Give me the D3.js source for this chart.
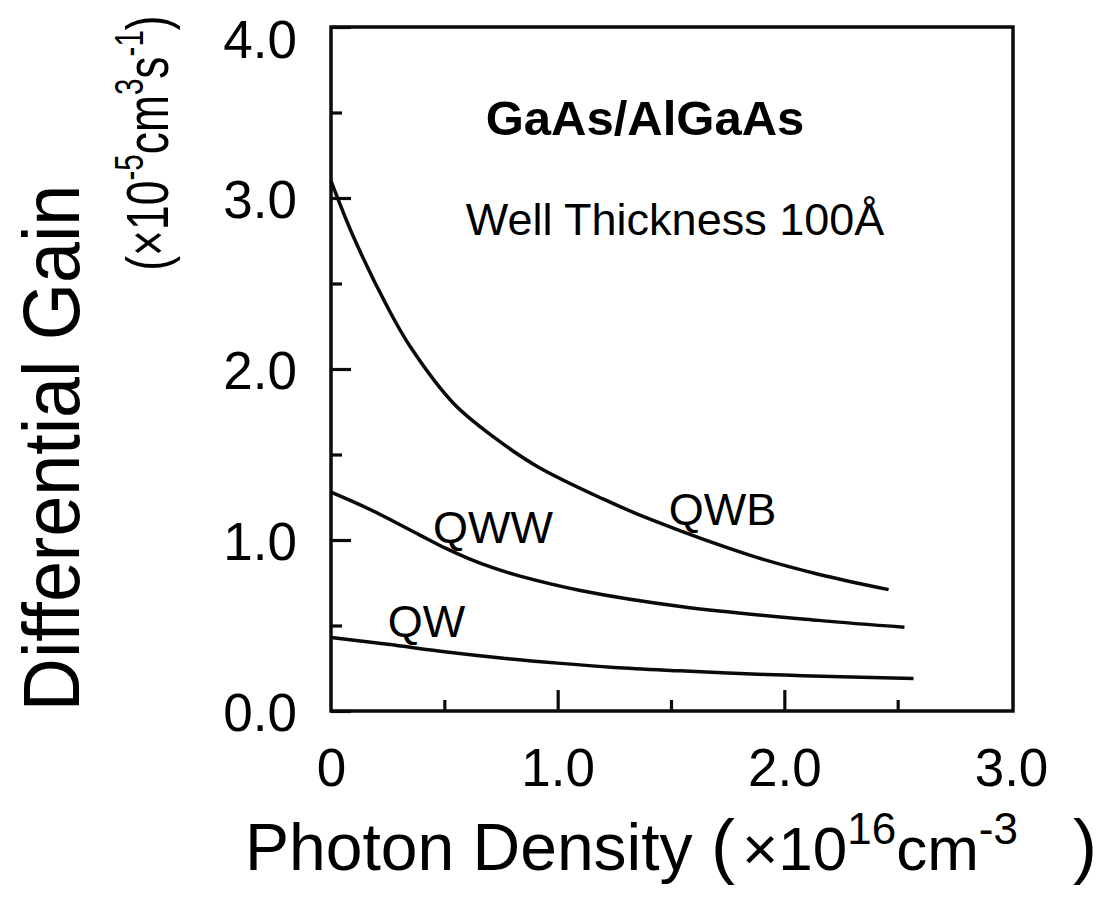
<!DOCTYPE html>
<html>
<head>
<meta charset="utf-8">
<script src="https://cdn.jsdelivr.net/npm/d3@7/dist/d3.min.js"></script>
<style>
  html, body { margin: 0; padding: 0; background: #fff; }
  svg { display: block; }
  text { font-family: "Liberation Sans", Arial, Helvetica, sans-serif; fill: #000; }
</style>
</head>
<body>
<svg id="chart" width="1113" height="907"></svg>
<script>
// Photon density (x1e16 cm^-3) and differential gain (x1e-5 cm^3 s^-1)
const qwbX = [0, 0.10, 0.25, 0.35, 0.54, 0.72, 0.91, 1.20, 1.41, 1.85, 2.15, 2.46];
const qwbY = [3.10, 2.77, 2.36, 2.13, 1.80, 1.60, 1.43, 1.24, 1.12, 0.91, 0.80, 0.71];

const qwwX = [0, 0.17, 0.39, 0.50, 0.61, 0.72, 0.83, 1.10, 1.55, 2.15, 2.53];
const qwwY = [1.28, 1.18, 1.03, 0.955, 0.89, 0.835, 0.79, 0.705, 0.61, 0.53, 0.49];

const qwX = [0, 0.25, 0.51, 0.75, 1.00, 1.25, 1.54, 1.75, 2.00, 2.25, 2.57];
const qwY = [0.43, 0.39, 0.345, 0.31, 0.28, 0.255, 0.235, 0.222, 0.21, 0.20, 0.19];

const seriesNames = ["QWB", "QWW", "QW"];

const xMajorTicks = [0, 1, 2, 3];
const xMinorTicks = [0.5, 1.5, 2.5];
const yMajorTicks = [0, 1, 2, 3, 4];
const yMinorTicks = [0.5, 1.5, 2.5, 3.5];

const series = [
  { name: seriesNames[0], xs: qwbX, ys: qwbY },
  { name: seriesNames[1], xs: qwwX, ys: qwwY },
  { name: seriesNames[2], xs: qwX, ys: qwY }
];

// curve label anchors, in data units (left end of text baseline)
const labelAt = {
  QWB: [1.49, 1.09],
  QWW: [0.45, 0.98],
  QW:  [0.25, 0.435]
};

const svg = d3.select("#chart");
const plotL = 331, plotR = 1011, plotT = 27, plotB = 711;

const x = d3.scaleLinear().domain([0, 3]).range([plotL, plotR]);
const y = d3.scaleLinear().domain([0, 4]).range([plotB, plotT]);

const ink = "#0a0a0a";

// frame
svg.append("rect")
  .attr("x", plotL).attr("y", plotT)
  .attr("width", plotR + 2 - plotL).attr("height", plotB - plotT)
  .attr("fill", "none").attr("stroke", ink).attr("stroke-width", 3.5);

// y axis: inward ticks, labels outside
const yAxisMajor = d3.axisLeft(y).tickValues(yMajorTicks)
  .tickSize(-20).tickPadding(34).tickFormat(d3.format(".1f"));
const gy = svg.append("g").attr("transform", `translate(${plotL},0)`).call(yAxisMajor);
gy.select(".domain").remove();
gy.selectAll(".tick line").attr("stroke", ink).attr("stroke-width", 3.2);
gy.selectAll(".tick text")
  .attr("font-size", 53).attr("fill", "#000")
  .attr("dy", d => d === 4 ? "0.58em" : "0.36em")
  .style("font-family", "'Liberation Sans', Arial, sans-serif");

const gyMinor = svg.append("g").attr("transform", `translate(${plotL},0)`)
  .call(d3.axisLeft(y).tickValues(yMinorTicks).tickSize(-11).tickFormat(""));
gyMinor.select(".domain").remove();
gyMinor.selectAll(".tick line").attr("stroke", ink).attr("stroke-width", 3.2);

// x axis
const xAxisMajor = d3.axisBottom(x).tickValues(xMajorTicks)
  .tickSize(-21).tickPadding(37)
  .tickFormat(d => d === 0 ? "0" : d3.format(".1f")(d));
const gx = svg.append("g").attr("transform", `translate(0,${plotB})`).call(xAxisMajor);
gx.select(".domain").remove();
gx.selectAll(".tick line").attr("stroke", ink).attr("stroke-width", 3.2)
  .filter(d => d === 0 || d === 3).remove();
gx.selectAll(".tick text")
  .attr("font-size", 53).attr("fill", "#000")
  .style("font-family", "'Liberation Sans', Arial, sans-serif");

const gxMinor = svg.append("g").attr("transform", `translate(0,${plotB})`)
  .call(d3.axisBottom(x).tickValues(xMinorTicks).tickSize(-11).tickFormat(""));
gxMinor.select(".domain").remove();
gxMinor.selectAll(".tick line").attr("stroke", ink).attr("stroke-width", 3.2);

// curves
const line = d3.line()
  .x(d => x(d[0])).y(d => y(d[1]))
  .curve(d3.curveCatmullRom.alpha(0.5));

series.forEach(s => {
  const pts = s.xs.map((v, i) => [v, s.ys[i]]);
  svg.append("path")
    .datum(pts)
    .attr("d", line)
    .attr("fill", "none")
    .attr("stroke", ink)
    .attr("stroke-width", 3.5)
    .attr("stroke-linecap", "butt");
  const a = labelAt[s.name];
  svg.append("text")
    .attr("x", x(a[0])).attr("y", y(a[1]))
    .attr("font-size", 45)
    .text(s.name);
});

// annotations
svg.append("text")
  .attr("x", 645).attr("y", 135)
  .attr("text-anchor", "middle")
  .attr("font-size", 49).attr("font-weight", "bold")
  .text("GaAs/AlGaAs");

svg.append("text")
  .attr("x", 675).attr("y", 235)
  .attr("text-anchor", "middle")
  .attr("font-size", 45)
  .text("Well Thickness 100Å");

// y title, two lines
svg.append("text")
  .attr("transform", "translate(79,448) rotate(-90) scale(0.92,1)")
  .attr("text-anchor", "middle")
  .attr("font-size", 80)
  .text("Differential Gain");

const yUnit = svg.append("text")
  .attr("transform", "translate(168,143) rotate(-90) scale(0.74,1)")
  .attr("text-anchor", "middle")
  .attr("font-size", 60);
yUnit.append("tspan").text("(×10");
yUnit.append("tspan").attr("dy", -25).attr("font-size", 40).text("-5");
yUnit.append("tspan").attr("dy", 25).text("cm");
yUnit.append("tspan").attr("dy", -25).attr("font-size", 40).text("3");
yUnit.append("tspan").attr("dy", 25).text("s");
yUnit.append("tspan").attr("dy", -25).attr("font-size", 40).text("-1");
yUnit.append("tspan").attr("dy", 25).text(")");

// x title
const xTitle = svg.append("text")
  .attr("x", 245).attr("y", 870)
  .attr("font-size", 66);
xTitle.append("tspan").text("Photon Density ");
xTitle.append("tspan").attr("font-size", 72).text("(");
xTitle.append("tspan").attr("x", 742).attr("font-size", 62).text("×10");
xTitle.append("tspan").attr("dy", -26).attr("font-size", 44).text("16");
xTitle.append("tspan").attr("dy", 26).attr("font-size", 62).text("cm");
xTitle.append("tspan").attr("dy", -26).attr("font-size", 44).text("-3");
xTitle.append("tspan").attr("dy", 26).attr("x", 1073).attr("font-size", 72).text(")");
</script>
</body>
</html>
